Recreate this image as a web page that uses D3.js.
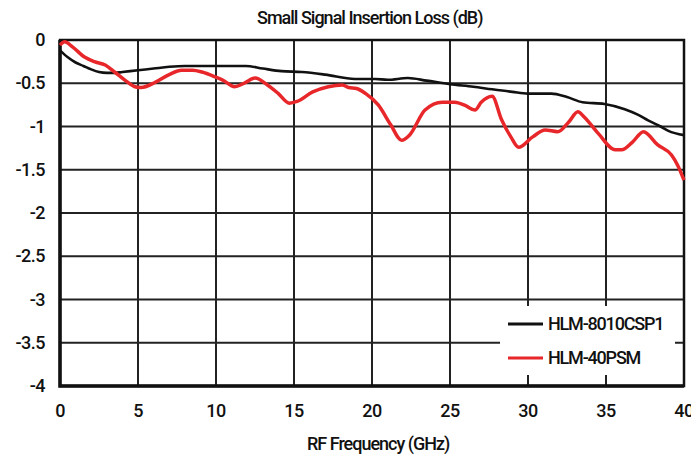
<!DOCTYPE html>
<html>
<head>
<meta charset="utf-8">
<script src="https://cdn.jsdelivr.net/npm/d3@7"></script>
<style>
  body { margin: 0; background: #fff; }
  text { font-family: Roboto, "Liberation Sans", Arial, sans-serif; font-weight: 500; fill: #111; }
</style>
</head>
<body>
<script>
// values
const blackFreq = [0, 0.5, 1, 1.5, 2, 2.5, 3, 3.5, 4, 5, 6, 7, 8, 10, 11.9, 13, 14.2, 15.5, 17, 18.9, 20.2, 21, 22.3, 23.5, 25, 26.5, 27.7, 29, 30, 31.5, 32.5, 33.5, 34.9, 36.2, 37, 37.7, 38.5, 39, 40];
const blackLoss = [-0.12, -0.2, -0.26, -0.3, -0.34, -0.37, -0.38, -0.38, -0.37, -0.35, -0.33, -0.31, -0.3, -0.3, -0.3, -0.33, -0.36, -0.37, -0.4, -0.45, -0.45, -0.46, -0.44, -0.47, -0.51, -0.54, -0.57, -0.6, -0.62, -0.62, -0.66, -0.72, -0.74, -0.8, -0.86, -0.93, -1.0, -1.05, -1.1];

const redFreq = [0, 0.3, 0.8, 1.6, 2.2, 2.9, 3.5, 4.2, 4.8, 5.2, 6.1, 7, 7.8, 8.5, 9.1, 10, 10.4, 11.2, 11.8, 12.5, 13.3, 14, 14.7, 15.2, 16.2, 17.2, 18.1, 18.5, 19, 19.6, 20.4, 21.2, 21.9, 22.4, 23.4, 24.5, 25.3, 26, 26.6, 27, 27.7, 28.3, 28.9, 29.4, 30.3, 31.1, 31.9, 32.6, 33.2, 33.6, 34.5, 35.6, 36, 36.7, 37.4, 38.3, 39.2, 39.6, 40];
const redLoss = [-0.06, -0.02, -0.08, -0.2, -0.25, -0.29, -0.37, -0.47, -0.54, -0.55, -0.49, -0.4, -0.35, -0.35, -0.37, -0.43, -0.46, -0.54, -0.5, -0.44, -0.52, -0.62, -0.73, -0.71, -0.6, -0.54, -0.52, -0.55, -0.56, -0.62, -0.75, -0.98, -1.16, -1.1, -0.81, -0.72, -0.72, -0.76, -0.81, -0.72, -0.65, -0.92, -1.12, -1.24, -1.12, -1.04, -1.06, -0.95, -0.83, -0.89, -1.08, -1.27, -1.27, -1.18, -1.06, -1.21, -1.33, -1.45, -1.62];

const xTicks = [0, 5, 10, 15, 20, 25, 30, 35, 40];
const yTicks = [0, -0.5, -1, -1.5, -2, -2.5, -3, -3.5, -4];
const seriesNames = ["HLM-8010CSP1", "HLM-40PSM"];
const seriesColors = ["#111111", "#e8272b"];

const width = 691, height = 455;
const plotLeft = 60, plotRight = 684, plotTop = 40, plotBottom = 386;

const svg = d3.select("body").append("svg")
    .attr("width", width)
    .attr("height", height);

const x = d3.scaleLinear().domain([0, 40]).range([plotLeft, plotRight]);
const y = d3.scaleLinear().domain([-4, 0]).range([plotBottom, plotTop]);

// grid
svg.append("g")
    .selectAll("line")
    .data(xTicks)
    .join("line")
    .attr("x1", d => x(d)).attr("x2", d => x(d))
    .attr("y1", plotTop).attr("y2", plotBottom)
    .attr("stroke", "#222").attr("stroke-width", 2);

svg.append("g")
    .selectAll("line")
    .data(yTicks)
    .join("line")
    .attr("x1", plotLeft).attr("x2", plotRight)
    .attr("y1", d => y(d)).attr("y2", d => y(d))
    .attr("stroke", "#222").attr("stroke-width", 2);

// frame
svg.append("rect")
    .attr("x", plotLeft).attr("y", plotTop)
    .attr("width", plotRight - plotLeft).attr("height", plotBottom - plotTop)
    .attr("fill", "none").attr("stroke", "#111").attr("stroke-width", 2.5);
svg.append("path")
    .attr("d", `M${plotLeft},${plotTop}V${plotBottom}H${plotRight}`)
    .attr("fill", "none").attr("stroke", "#111").attr("stroke-width", 3.5);

// tick labels
svg.append("g")
    .selectAll("text")
    .data(yTicks)
    .join("text")
    .attr("x", 45).attr("y", d => y(d) + 6)
    .attr("text-anchor", "end")
    .attr("font-size", 18)
    .attr("letter-spacing", -0.5)
    .text(d => d);

svg.append("g")
    .selectAll("text")
    .data(xTicks)
    .join("text")
    .attr("x", d => x(d)).attr("y", 417)
    .attr("text-anchor", "middle")
    .attr("font-size", 18)
    .attr("letter-spacing", -0.5)
    .text(d => d);

// titles
svg.append("text")
    .attr("x", 257).attr("y", 24)
    .attr("font-size", 18)
    .attr("letter-spacing", -1)
    .text("Small Signal Insertion Loss (dB)");

svg.append("text")
    .attr("x", 307).attr("y", 450)
    .attr("font-size", 18)
    .attr("letter-spacing", -1)
    .text("RF Frequency (GHz)");

// series
const line = d3.line()
    .x(d => x(d[0]))
    .y(d => y(d[1]))
    .curve(d3.curveMonotoneX);

svg.append("path")
    .datum(d3.zip(blackFreq, blackLoss))
    .attr("d", line)
    .attr("fill", "none")
    .attr("stroke", seriesColors[0])
    .attr("stroke-width", 2.6);

svg.append("path")
    .datum(d3.zip(redFreq, redLoss))
    .attr("d", line)
    .attr("fill", "none")
    .attr("stroke", seriesColors[1])
    .attr("stroke-width", 3.5)
    .attr("stroke-linejoin", "round");

// legend
svg.append("rect")
    .attr("x", 500).attr("y", 306)
    .attr("width", 175).attr("height", 69)
    .attr("fill", "#fff");

const legend = svg.append("g")
    .selectAll("g")
    .data(seriesNames)
    .join("g")
    .attr("transform", (d, i) => `translate(508, ${324 + i * 34})`);

legend.append("line")
    .attr("x1", 0).attr("x2", 35)
    .attr("stroke", (d, i) => seriesColors[i])
    .attr("stroke-width", 3);

legend.append("text")
    .attr("x", 40).attr("y", 6)
    .attr("font-size", 18)
    .attr("letter-spacing", -1.2)
    .text(d => d);
</script>
</body>
</html>
